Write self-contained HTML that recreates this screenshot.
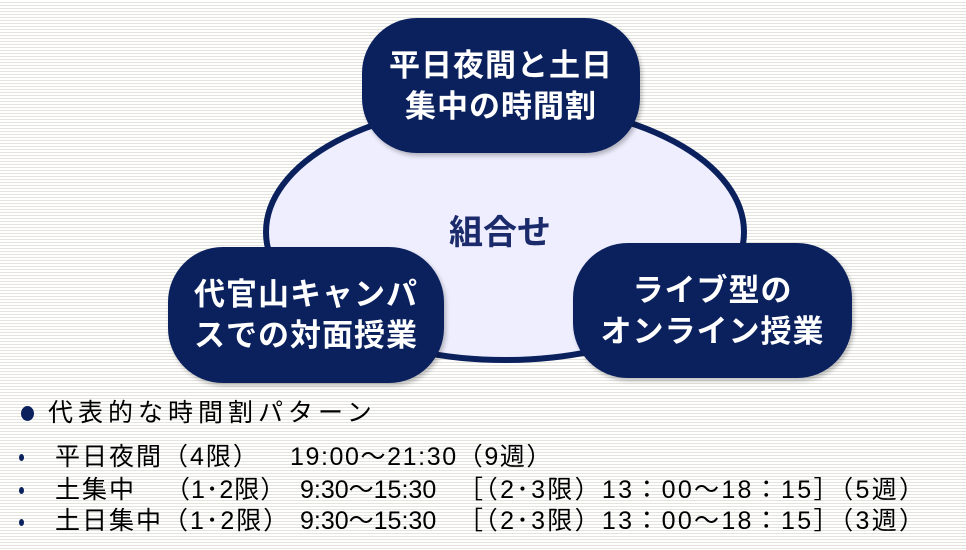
<!DOCTYPE html>
<html><head><meta charset="utf-8"><style>
body{margin:0;width:966px;height:550px;overflow:hidden;position:relative;font-family:"Liberation Sans","Noto Sans CJK JP",sans-serif;
background:repeating-linear-gradient(to bottom,#fff 0,#fff 2px,#e4e4dc 2px,#e4e4dc 3px);}
.box{position:absolute;background:#0b215e;border-radius:55px;color:#fff;font-weight:bold;font-size:31px;letter-spacing:1px;line-height:41px;display:flex;align-items:center;justify-content:center;text-align:center;box-shadow:2px 3px 4px rgba(0,0,0,.25);}
.t{position:absolute;font-size:25px;color:#000;white-space:nowrap;line-height:28px;}
.d{position:absolute;width:5px;height:7px;border-radius:50%;background:#0b215e;left:19px;}
</style></head><body>
<svg width="966" height="550" style="position:absolute;left:0;top:0">
<ellipse cx="505" cy="232" rx="239" ry="128" fill="#eeeefe" stroke="#0b215e" stroke-width="6"/>
</svg>
<div class="box" style="left:362px;top:18px;width:278px;height:135px">平日夜間と土日<br>集中の時間割</div>
<div class="box" style="left:168px;top:247px;width:276px;height:136px">代官山キャンパ<br>スでの対面授業</div>
<div class="box" style="left:573px;top:243px;width:279px;height:135px">ライブ型の<br>オンライン授業</div>
<div style="position:absolute;left:420px;top:205px;width:160px;text-align:center;font-size:34px;font-weight:bold;color:#1a2a6a">組合せ</div>
<div style="position:absolute;left:21px;top:406px;width:13px;height:15px;border-radius:50%;background:#0b215e"></div>
<div class="t" style="left:48px;top:399px;letter-spacing:5px">代表的な時間割パターン</div>
<div class="d" style="top:454px"></div>
<div class="d" style="top:487px"></div>
<div class="d" style="top:519px"></div>
<div class="t" style="left:55px;top:443px;letter-spacing:2px">平日夜間（4限）</div>
<div class="t" style="left:290px;top:443px;letter-spacing:1.6px">19:00～21:30（9週）</div>
<div class="t" style="left:55px;top:476px;letter-spacing:2px">土集中</div>
<div class="t" style="left:165px;top:476px;letter-spacing:1px">（1･2限）</div>
<div class="t" style="left:300px;top:476px">9:30～15:30</div>
<div class="t" style="left:458px;top:476px;letter-spacing:2.3px">［（2･3限）13：00～18：15］（5週）</div>
<div class="t" style="left:55px;top:507px;letter-spacing:2px">土日集中（1･2限）</div>
<div class="t" style="left:300px;top:507px">9:30～15:30</div>
<div class="t" style="left:458px;top:507px;letter-spacing:2.3px">［（2･3限）13：00～18：15］（3週）</div>
</body></html>
